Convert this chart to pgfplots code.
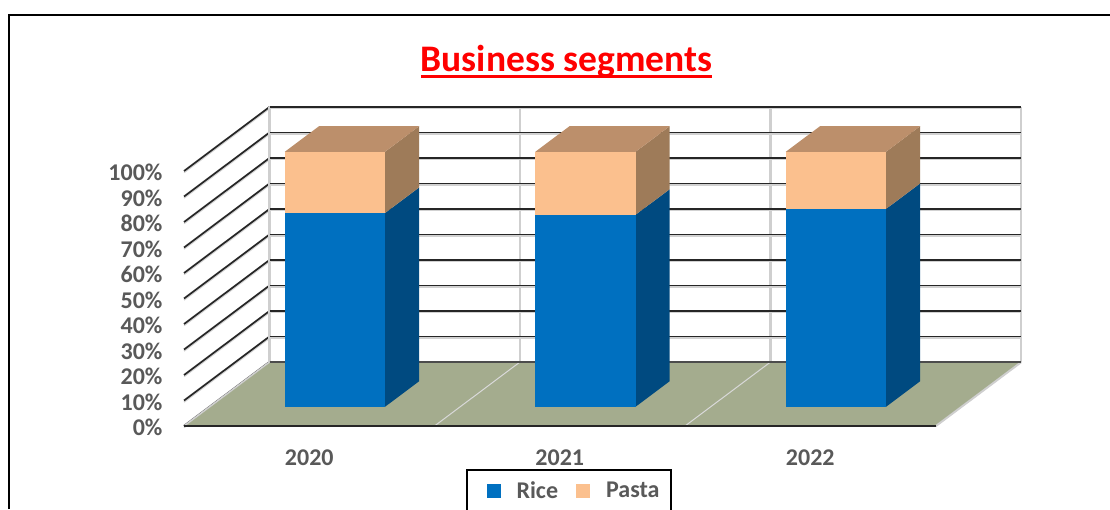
\documentclass[border=0pt]{standalone}
\usepackage{pgfplots}
\pgfplotsset{compat=1.18}
\usepackage{fontspec}
\setmainfont{Carlito}
\definecolor{rice}{HTML}{0070C0}
\definecolor{riceside}{HTML}{004A80}
\definecolor{pasta}{HTML}{FBC08E}
\definecolor{pastaside}{HTML}{9E7B59}
\definecolor{pastatop}{HTML}{BC8F6B}
\definecolor{floorc}{HTML}{A4AC8E}
\definecolor{ticktext}{HTML}{595959}
\definecolor{wallgray}{HTML}{CFCFCF}
\begin{document}
\begin{tikzpicture}[x=1pt,y=1pt]
\path[use as bounding box,fill=white] (0,0) rectangle (1110,509);
\clip (0,0) rectangle (1110,509);
\draw[black,line width=2pt] (9,0) -- (9,494) -- (1110,494);
\begin{axis}[
  at={(184pt,83pt)}, anchor=origin,
  x={(250.5pt,0pt)}, y={(85.5pt,64pt)}, z={(0pt,2.55pt)},
  xmin=0, xmax=3, ymin=0, ymax=1, zmin=0, zmax=100,
  xtick={0,1,2,3}, ytick=\empty,
  ztick={0,10,...,100},
  extra x ticks={0.5,1.5,2.5},
  extra x tick labels={2020,2021,2022},
  extra x tick style={grid=none,tick style={draw=none},
    xticklabel style={font=\bfseries\fontsize{24}{25}\selectfont,text=ticktext,anchor=north,yshift=-20pt}},
  xticklabels={},
  /pgf/number format/assume math mode=true,
  zticklabel={\pgfmathprintnumber{\tick}\%},
  zticklabel pos=left,
  zticklabel style={font=\bfseries\fontsize{24}{25}\selectfont,text=ticktext,anchor=east,xshift=-18pt,yshift=-1.5pt},
  grid=major,
  x grid style={wallgray,line width=2.4pt},
  z grid style={black!85,line width=1.7pt,
     preaction={draw=black!18,line width=1.5pt,transform canvas={yshift=-1.5pt}}},
  axis line style={draw=none},
  tick style={draw=none},
  title={\rlap{\rule[-6.7pt]{291pt}{2.7pt}}Business segments},
  title style={font=\bfseries\fontsize{37.5}{40}\selectfont,text=red,
    at={(axis description cs:0.457,1.124)},anchor=center},
  legend columns=2,
  legend style={at={(axis description cs:0.46,-0.134)},anchor=north,
    draw=black,line width=2pt,font=\bfseries\fontsize{24}{25}\selectfont,text=ticktext,
    inner ysep=10pt,inner xsep=12pt,
    /tikz/every even column/.append style={column sep=8pt},
    /tikz/every odd column/.append style={column sep=14pt}},
  legend cell align=left,
  legend image code/.code={\path (0pt,0pt); \fill[#1,draw=none] (8pt,-7pt) rectangle (22pt,7pt);},
  clip=false,
]
% floor
\addplot3[fill=floorc,draw=none,forget plot] coordinates {(0,0,0) (3,0,0) (3,1,0) (0,1,0)};
\addplot3[white!85!black,line width=1pt,forget plot] coordinates {(1,0,0) (1,1,0)};
\addplot3[white!85!black,line width=1pt,forget plot] coordinates {(2,0,0) (2,1,0)};
\addplot3[wallgray,line width=1.5pt,forget plot] coordinates {(0,0,0) (0,1,0)};
\addplot3[wallgray,line width=1.5pt,forget plot] coordinates {(3,0,0) (3,1,0)};
\addplot3[black!70,line width=1.8pt,forget plot] coordinates {(0,1,0) (3,1,0)};
\addplot3[black!85,line width=2pt,forget plot] coordinates {(0,0,0) (3,0,0)};
% 2020
\addplot3[fill=riceside,draw=none,forget plot] coordinates {(0.7,0.3,0) (0.7,0.7,0) (0.7,0.7,76) (0.7,0.3,76)};
\addplot3[fill=rice,draw=none] coordinates {(0.3,0.3,0) (0.7,0.3,0) (0.7,0.3,76) (0.3,0.3,76)};
\addplot3[fill=pastaside,draw=none,forget plot] coordinates {(0.7,0.3,76) (0.7,0.7,76) (0.7,0.7,100) (0.7,0.3,100)};
\addplot3[fill=pastatop,draw=none,forget plot] coordinates {(0.3,0.3,100) (0.7,0.3,100) (0.7,0.7,100) (0.3,0.7,100)};
\addplot3[fill=pasta,draw=none] coordinates {(0.3,0.3,76) (0.7,0.3,76) (0.7,0.3,100) (0.3,0.3,100)};
% 2021
\addplot3[fill=riceside,draw=none,forget plot] coordinates {(1.7,0.3,0) (1.7,0.7,0) (1.7,0.7,75.3) (1.7,0.3,75.3)};
\addplot3[fill=rice,draw=none,forget plot] coordinates {(1.3,0.3,0) (1.7,0.3,0) (1.7,0.3,75.3) (1.3,0.3,75.3)};
\addplot3[fill=pastaside,draw=none,forget plot] coordinates {(1.7,0.3,75.3) (1.7,0.7,75.3) (1.7,0.7,100) (1.7,0.3,100)};
\addplot3[fill=pastatop,draw=none,forget plot] coordinates {(1.3,0.3,100) (1.7,0.3,100) (1.7,0.7,100) (1.3,0.7,100)};
\addplot3[fill=pasta,draw=none,forget plot] coordinates {(1.3,0.3,75.3) (1.7,0.3,75.3) (1.7,0.3,100) (1.3,0.3,100)};
% 2022
\addplot3[fill=riceside,draw=none,forget plot] coordinates {(2.7,0.3,0) (2.7,0.7,0) (2.7,0.7,77.6) (2.7,0.3,77.6)};
\addplot3[fill=rice,draw=none,forget plot] coordinates {(2.3,0.3,0) (2.7,0.3,0) (2.7,0.3,77.6) (2.3,0.3,77.6)};
\addplot3[fill=pastaside,draw=none,forget plot] coordinates {(2.7,0.3,77.6) (2.7,0.7,77.6) (2.7,0.7,100) (2.7,0.3,100)};
\addplot3[fill=pastatop,draw=none,forget plot] coordinates {(2.3,0.3,100) (2.7,0.3,100) (2.7,0.7,100) (2.3,0.7,100)};
\addplot3[fill=pasta,draw=none,forget plot] coordinates {(2.3,0.3,77.6) (2.7,0.3,77.6) (2.7,0.3,100) (2.3,0.3,100)};
\legend{Rice,Pasta\hspace*{-2pt}}
\end{axis}
\end{tikzpicture}
\end{document}
